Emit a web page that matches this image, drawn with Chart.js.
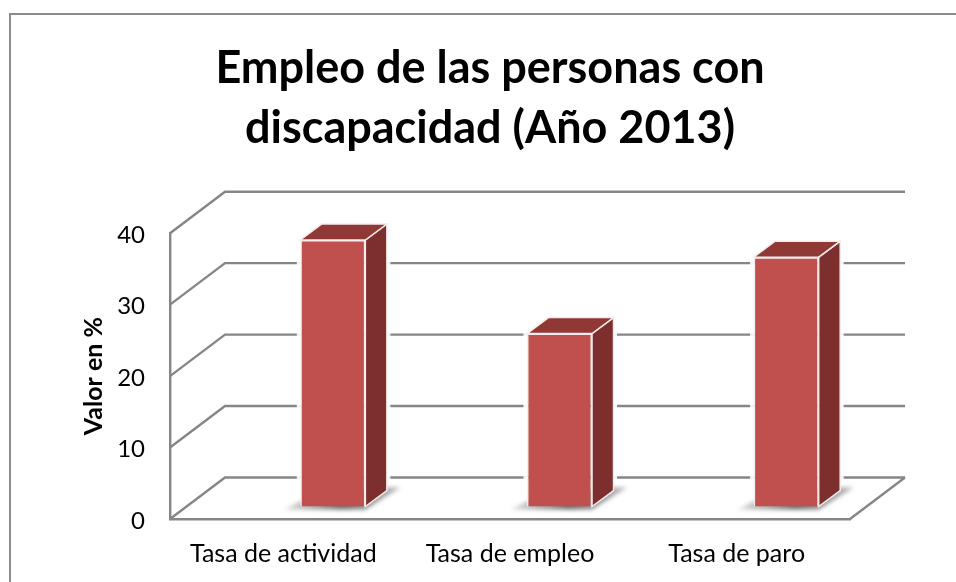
<!DOCTYPE html>
<html>
<head>
<meta charset="utf-8">
<style>
  html, body { margin: 0; padding: 0; background: #fff; }
  #wrap { position: relative; width: 956px; height: 582px; overflow: hidden; }
  #frame { position: absolute; left: 9px; top: 13px; width: 960px; height: 600px; border: 2px solid #8c8c8c; box-sizing: border-box; }
  canvas { position: absolute; left: 0; top: 0; }
</style>
<script src="https://cdn.jsdelivr.net/npm/chart.js@4/dist/chart.umd.min.js"></script>
</head>
<body>
<div id="wrap">
  <div id="frame"></div>
  <canvas id="chart" width="956" height="582"></canvas>
</div>
<script>
const categories = ['Tasa de actividad', 'Tasa de empleo', 'Tasa de paro'];
const values = [37.3, 24.2, 34.9];
const titleLines = ['Empleo de las personas con', 'discapacidad (Año 2013)'];
const yTicks = [0, 10, 20, 30, 40];

const AXIS = '#868686';
// 3d look: how far back the walls sit and where the bars sit inside the box
const WALL_DX = 55, WALL_DY = -41.5;
const FACE_DX = 49.5, FACE_DY = -12.5;
const SIDE_DX = 21.5, SIDE_DY = -16;

function poly(ctx, pts, fill, stroke){
  ctx.beginPath();
  pts.forEach((p, i) => i ? ctx.lineTo(p[0], p[1]) : ctx.moveTo(p[0], p[1]));
  ctx.closePath();
  ctx.fillStyle = fill;
  ctx.fill();
  if (stroke) { ctx.strokeStyle = stroke; ctx.lineWidth = 1.5; ctx.stroke(); }
}

const box3d = {
  id: 'box3d',
  // title is centred on the frame, not on the plot
  afterLayout(chart){
    chart.titleBlock.left = 24;
    chart.titleBlock.right = 956;
  },
  beforeDraw(chart){
    // lato sits a bit high on its middle baseline
    chart.scales.y.getLabelItems().forEach(item => { item.textOffset = 2; });
  },
  beforeDatasetsDraw(chart){
    const {ctx, chartArea: a, scales} = chart;
    const y = scales.y;
    ctx.save();
    ctx.strokeStyle = AXIS;
    ctx.lineWidth = 2.4;
    // wall lines and their slanted side part
    yTicks.forEach(v => {
      const py = y.getPixelForValue(v);
      ctx.beginPath();
      ctx.moveTo(a.left, py);
      ctx.lineTo(a.left + WALL_DX, py + WALL_DY);
      ctx.lineTo(a.right + WALL_DX, py + WALL_DY);
      ctx.stroke();
    });
    // right edge of the floor
    ctx.beginPath();
    ctx.moveTo(a.right, a.bottom);
    ctx.lineTo(a.right + WALL_DX, a.bottom + WALL_DY);
    ctx.stroke();

    // bar shadows, sides and tops
    chart.getDatasetMeta(0).data.forEach(bar => {
      const half = bar.width / 2;
      const x0 = bar.x - half + FACE_DX, x1 = bar.x + half + FACE_DX;
      const top = bar.y + FACE_DY, bot = bar.base + FACE_DY;
      ctx.save();
      ctx.filter = 'blur(2px)';
      const g = ctx.createLinearGradient(x0 - 17, bot, x1 + 35, bot);
      g.addColorStop(0, 'rgba(120,120,120,0.25)');
      g.addColorStop(0.5, 'rgba(90,90,90,0.9)');
      g.addColorStop(1, 'rgba(120,120,120,0.5)');
      poly(ctx, [[x0 - 16, bot + 3], [x1, bot + 3], [x1 + 35, bot - 19], [x1 + 10, bot - 19], [x0, bot - 5]], g);
      ctx.restore();
      // light halo that cuts the wall lines next to the bar
      ctx.strokeStyle = 'rgba(255,255,255,0.9)';
      ctx.lineWidth = 5;
      ctx.strokeRect(x0 - 1, top + SIDE_DY, x1 - x0 + SIDE_DX + 2, bot - top - SIDE_DY - 24);
      poly(ctx, [[x1, top], [x1 + SIDE_DX, top + SIDE_DY], [x1 + SIDE_DX, bot + SIDE_DY], [x1, bot]], '#7d2f2d', '#f4ecec');
      poly(ctx, [[x0, top], [x0 + SIDE_DX, top + SIDE_DY], [x1 + SIDE_DX, top + SIDE_DY], [x1, top]], '#903836', '#f4ecec');
    });
    ctx.restore();
  },
  // the front faces are the plain chart.js bars, moved into the box
  beforeDatasetDraw(chart){
    chart.ctx.save();
    chart.ctx.translate(FACE_DX, FACE_DY);
  },
  afterDatasetDraw(chart){
    chart.ctx.restore();
  }
};

new Chart(document.getElementById('chart'), {
  type: 'bar',
  plugins: [box3d],
  data: {
    labels: categories,
    datasets: [{
      data: values,
      backgroundColor: '#c0504d',
      borderColor: '#f4ecec',
      borderWidth: 1.5,
      barPercentage: 0.287,
      categoryPercentage: 1,
      clip: false
    }]
  },
  options: {
    responsive: false,
    animation: false,
    layout: { padding: { left: 0, right: 106, top: 39, bottom: 0 } },
    plugins: {
      legend: { display: false },
      tooltip: { enabled: false },
      title: {
        display: true,
        text: titleLines,
        color: '#000',
        font: { family: 'Lato', size: 45, weight: 'bold', lineHeight: 1.33 },
        padding: { top: 0, bottom: 74.5 }
      }
    },
    scales: {
      x: {
        grid: { display: false },
        border: { display: true, color: AXIS, width: 2.4 },
        ticks: { color: '#000', font: { family: 'Lato', size: 25 }, padding: 12, maxRotation: 0 },
        afterFit(s){ s.height = 63; }
      },
      y: {
        min: 0,
        max: 40,
        grid: { display: false },
        border: { display: true, color: AXIS, width: 2.4 },
        afterFit(s){ s.width = 170; },
        ticks: { color: '#000', font: { family: 'Lato', size: 24 }, stepSize: 10, padding: 17 },
        title: {
          display: true,
          text: 'Valor en %',
          color: '#000',
          font: { family: 'Lato', size: 25, weight: 'bold' },
          padding: { top: 79, bottom: 0 }
        }
      }
    }
  }
});
</script>
</body>
</html>
